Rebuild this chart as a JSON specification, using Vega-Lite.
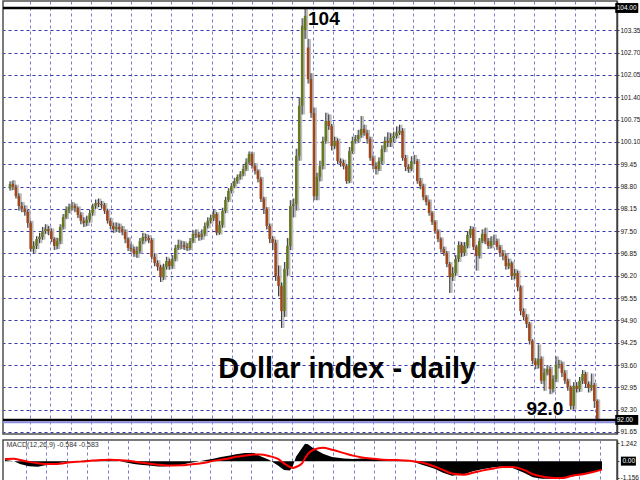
{
"$schema": "https://vega.github.io/schema/vega-lite/v6.json",
"padding": 0,
"background": "#ffffff",
"spacing": 2,
"config": {
  "view": {"stroke": "#505050", "strokeWidth": 1.5},
  "axis": {"labelFont": "Liberation Sans", "labelFontSize": 6.5, "labelColor": "#111111", "labelOverlap": false, "labelBound": false, "tickColor": "#404040", "tickSize": 2, "domainColor": "#404040", "domainWidth": 1.5, "labelPadding": 1, "gridDash": [3, 3], "gridWidth": 1}
},
"datasets": {
  "hlines": [{"level": 104.0}, {"level": 92.0}],
  "candles": [
{"i":0,"o":98.75,"h":98.95,"l":98.68,"c":98.87},
{"i":1,"o":98.87,"h":98.98,"l":98.70,"c":98.79},
{"i":2,"o":98.79,"h":98.85,"l":98.45,"c":98.52},
{"i":3,"o":98.52,"h":98.60,"l":98.10,"c":98.23},
{"i":4,"o":98.23,"h":98.35,"l":98.05,"c":98.15},
{"i":5,"o":98.15,"h":98.25,"l":97.95,"c":98.06},
{"i":6,"o":98.06,"h":98.12,"l":97.60,"c":97.74},
{"i":7,"o":97.74,"h":97.80,"l":96.90,"c":96.98},
{"i":8,"o":96.98,"h":97.20,"l":96.85,"c":97.07},
{"i":9,"o":97.07,"h":97.35,"l":96.98,"c":97.27},
{"i":10,"o":97.27,"h":97.45,"l":97.15,"c":97.33},
{"i":11,"o":97.33,"h":97.62,"l":97.25,"c":97.50},
{"i":12,"o":97.50,"h":97.70,"l":97.42,"c":97.56},
{"i":13,"o":97.56,"h":97.65,"l":97.38,"c":97.50},
{"i":14,"o":97.50,"h":97.58,"l":97.18,"c":97.27},
{"i":15,"o":97.27,"h":97.32,"l":96.95,"c":97.07},
{"i":16,"o":97.07,"h":97.30,"l":96.98,"c":97.21},
{"i":17,"o":97.21,"h":97.70,"l":97.12,"c":97.62},
{"i":18,"o":97.62,"h":98.00,"l":97.55,"c":97.91},
{"i":19,"o":97.91,"h":98.22,"l":97.85,"c":98.12},
{"i":20,"o":98.12,"h":98.30,"l":98.02,"c":98.20},
{"i":21,"o":98.20,"h":98.35,"l":98.10,"c":98.23},
{"i":22,"o":98.23,"h":98.30,"l":98.05,"c":98.17},
{"i":23,"o":98.17,"h":98.22,"l":97.88,"c":97.97},
{"i":24,"o":97.97,"h":98.05,"l":97.70,"c":97.80},
{"i":25,"o":97.80,"h":97.90,"l":97.62,"c":97.74},
{"i":26,"o":97.74,"h":97.95,"l":97.65,"c":97.83},
{"i":27,"o":97.83,"h":98.12,"l":97.75,"c":98.03},
{"i":28,"o":98.03,"h":98.30,"l":97.95,"c":98.23},
{"i":29,"o":98.23,"h":98.42,"l":98.15,"c":98.32},
{"i":30,"o":98.32,"h":98.45,"l":98.20,"c":98.29},
{"i":31,"o":98.29,"h":98.38,"l":98.15,"c":98.26},
{"i":32,"o":98.26,"h":98.32,"l":98.00,"c":98.09},
{"i":33,"o":98.09,"h":98.15,"l":97.72,"c":97.80},
{"i":34,"o":97.80,"h":97.88,"l":97.55,"c":97.65},
{"i":35,"o":97.65,"h":97.75,"l":97.45,"c":97.56},
{"i":36,"o":97.56,"h":97.75,"l":97.48,"c":97.62},
{"i":37,"o":97.62,"h":97.72,"l":97.45,"c":97.56},
{"i":38,"o":97.56,"h":97.65,"l":97.38,"c":97.48},
{"i":39,"o":97.48,"h":97.55,"l":97.15,"c":97.27},
{"i":40,"o":97.27,"h":97.32,"l":96.92,"c":97.01},
{"i":41,"o":97.01,"h":97.12,"l":96.88,"c":96.98},
{"i":42,"o":96.98,"h":97.05,"l":96.75,"c":96.83},
{"i":43,"o":96.83,"h":97.05,"l":96.72,"c":96.92},
{"i":44,"o":96.92,"h":97.30,"l":96.85,"c":97.21},
{"i":45,"o":97.21,"h":97.45,"l":97.12,"c":97.33},
{"i":46,"o":97.33,"h":97.42,"l":97.20,"c":97.30},
{"i":47,"o":97.30,"h":97.38,"l":97.15,"c":97.24},
{"i":48,"o":97.24,"h":97.30,"l":96.68,"c":96.75},
{"i":49,"o":96.75,"h":96.85,"l":96.48,"c":96.57},
{"i":50,"o":96.57,"h":96.65,"l":96.35,"c":96.46},
{"i":51,"o":96.46,"h":96.52,"l":96.02,"c":96.16},
{"i":52,"o":96.16,"h":96.55,"l":96.08,"c":96.46},
{"i":53,"o":96.46,"h":96.75,"l":96.38,"c":96.63},
{"i":54,"o":96.63,"h":96.70,"l":96.38,"c":96.48},
{"i":55,"o":96.48,"h":96.80,"l":96.40,"c":96.69},
{"i":56,"o":96.69,"h":97.10,"l":96.62,"c":97.01},
{"i":57,"o":97.01,"h":97.25,"l":96.95,"c":97.10},
{"i":58,"o":97.10,"h":97.22,"l":96.98,"c":97.10},
{"i":59,"o":97.10,"h":97.20,"l":96.95,"c":97.04},
{"i":60,"o":97.04,"h":97.15,"l":96.92,"c":97.01},
{"i":61,"o":97.01,"h":97.30,"l":96.95,"c":97.21},
{"i":62,"o":97.21,"h":97.52,"l":97.15,"c":97.42},
{"i":63,"o":97.42,"h":97.55,"l":97.30,"c":97.39},
{"i":64,"o":97.39,"h":97.48,"l":97.22,"c":97.33},
{"i":65,"o":97.33,"h":97.55,"l":97.25,"c":97.42},
{"i":66,"o":97.42,"h":97.75,"l":97.35,"c":97.65},
{"i":67,"o":97.65,"h":97.90,"l":97.58,"c":97.80},
{"i":68,"o":97.80,"h":97.98,"l":97.72,"c":97.88},
{"i":69,"o":97.88,"h":98.12,"l":97.80,"c":98.00},
{"i":70,"o":98.00,"h":98.05,"l":97.38,"c":97.45},
{"i":71,"o":97.45,"h":97.80,"l":97.40,"c":97.68},
{"i":72,"o":97.68,"h":98.18,"l":97.60,"c":98.09},
{"i":73,"o":98.09,"h":98.50,"l":98.02,"c":98.41},
{"i":74,"o":98.41,"h":98.75,"l":98.35,"c":98.67},
{"i":75,"o":98.67,"h":98.90,"l":98.60,"c":98.81},
{"i":76,"o":98.81,"h":99.05,"l":98.75,"c":98.96},
{"i":77,"o":98.96,"h":99.15,"l":98.88,"c":99.08},
{"i":78,"o":99.08,"h":99.25,"l":99.00,"c":99.16},
{"i":79,"o":99.16,"h":99.42,"l":99.10,"c":99.31},
{"i":80,"o":99.31,"h":99.62,"l":99.25,"c":99.51},
{"i":81,"o":99.51,"h":99.82,"l":99.45,"c":99.75},
{"i":82,"o":99.75,"h":99.80,"l":99.32,"c":99.40},
{"i":83,"o":99.40,"h":99.48,"l":99.15,"c":99.25},
{"i":84,"o":99.25,"h":99.30,"l":98.92,"c":99.02},
{"i":85,"o":99.02,"h":99.08,"l":98.35,"c":98.44},
{"i":86,"o":98.44,"h":98.50,"l":98.00,"c":98.15},
{"i":87,"o":98.15,"h":98.20,"l":97.55,"c":97.65},
{"i":88,"o":97.65,"h":97.72,"l":97.15,"c":97.27},
{"i":89,"o":97.27,"h":97.35,"l":96.95,"c":97.16},
{"i":90,"o":97.16,"h":97.25,"l":96.05,"c":96.19},
{"i":91,"o":96.19,"h":96.50,"l":95.60,"c":95.90},
{"i":92,"o":95.90,"h":96.00,"l":94.68,"c":95.17},
{"i":93,"o":95.17,"h":96.60,"l":95.00,"c":96.40},
{"i":94,"o":96.40,"h":97.30,"l":96.20,"c":97.07},
{"i":95,"o":97.07,"h":98.40,"l":96.95,"c":98.23},
{"i":96,"o":98.23,"h":98.45,"l":97.90,"c":98.29},
{"i":97,"o":98.29,"h":99.90,"l":98.10,"c":99.69},
{"i":98,"o":99.69,"h":101.40,"l":99.55,"c":101.15},
{"i":99,"o":101.15,"h":103.70,"l":100.90,"c":103.48},
{"i":100,"o":103.35,"h":103.97,"l":103.10,"c":103.77},
{"i":101,"o":102.85,"h":103.10,"l":101.80,"c":101.93},
{"i":102,"o":101.93,"h":102.10,"l":100.80,"c":100.94},
{"i":103,"o":100.94,"h":101.10,"l":98.40,"c":98.52},
{"i":104,"o":98.52,"h":99.20,"l":98.40,"c":99.08},
{"i":105,"o":99.08,"h":99.55,"l":98.95,"c":99.40},
{"i":106,"o":99.40,"h":100.25,"l":99.30,"c":100.13},
{"i":107,"o":100.13,"h":100.95,"l":100.05,"c":100.71},
{"i":108,"o":100.71,"h":100.90,"l":100.45,"c":100.56},
{"i":109,"o":100.56,"h":100.62,"l":99.85,"c":99.98},
{"i":110,"o":99.98,"h":100.25,"l":99.90,"c":100.13},
{"i":111,"o":100.13,"h":100.20,"l":99.45,"c":99.54},
{"i":112,"o":99.54,"h":99.62,"l":99.38,"c":99.49},
{"i":113,"o":99.49,"h":99.58,"l":99.30,"c":99.40},
{"i":114,"o":99.40,"h":99.45,"l":98.88,"c":98.96},
{"i":115,"o":98.96,"h":99.95,"l":98.90,"c":99.83},
{"i":116,"o":99.83,"h":100.25,"l":99.75,"c":100.13},
{"i":117,"o":100.13,"h":100.30,"l":100.05,"c":100.18},
{"i":118,"o":100.18,"h":100.45,"l":100.10,"c":100.30},
{"i":119,"o":100.30,"h":100.85,"l":100.22,"c":100.48},
{"i":120,"o":100.48,"h":100.60,"l":100.28,"c":100.36},
{"i":121,"o":100.36,"h":100.45,"l":100.05,"c":100.18},
{"i":122,"o":100.18,"h":100.25,"l":99.55,"c":99.63},
{"i":123,"o":99.63,"h":99.70,"l":99.30,"c":99.40},
{"i":124,"o":99.40,"h":99.50,"l":99.15,"c":99.31},
{"i":125,"o":99.31,"h":99.65,"l":99.25,"c":99.54},
{"i":126,"o":99.54,"h":100.00,"l":99.45,"c":99.89},
{"i":127,"o":99.89,"h":100.25,"l":99.80,"c":100.13},
{"i":128,"o":100.13,"h":100.38,"l":99.95,"c":100.07},
{"i":129,"o":100.07,"h":100.35,"l":99.95,"c":100.21},
{"i":130,"o":100.21,"h":100.40,"l":100.10,"c":100.27},
{"i":131,"o":100.27,"h":100.55,"l":100.20,"c":100.36},
{"i":132,"o":100.36,"h":100.60,"l":100.30,"c":100.42},
{"i":133,"o":100.42,"h":100.50,"l":99.55,"c":99.63},
{"i":134,"o":99.63,"h":99.72,"l":99.25,"c":99.37},
{"i":135,"o":99.37,"h":99.45,"l":99.20,"c":99.31},
{"i":136,"o":99.31,"h":99.68,"l":99.25,"c":99.54},
{"i":137,"o":99.54,"h":99.72,"l":99.45,"c":99.54},
{"i":138,"o":99.54,"h":99.60,"l":98.88,"c":98.96},
{"i":139,"o":98.96,"h":99.05,"l":98.72,"c":98.81},
{"i":140,"o":98.81,"h":98.88,"l":98.40,"c":98.49},
{"i":141,"o":98.49,"h":98.55,"l":98.25,"c":98.35},
{"i":142,"o":98.35,"h":98.42,"l":97.95,"c":98.03},
{"i":143,"o":98.03,"h":98.08,"l":97.68,"c":97.77},
{"i":144,"o":97.77,"h":97.82,"l":97.42,"c":97.50},
{"i":145,"o":97.50,"h":97.55,"l":97.18,"c":97.27},
{"i":146,"o":97.27,"h":97.32,"l":96.88,"c":96.98},
{"i":147,"o":96.98,"h":97.05,"l":96.78,"c":96.86},
{"i":148,"o":96.86,"h":96.92,"l":96.45,"c":96.54},
{"i":149,"o":96.54,"h":96.60,"l":95.70,"c":96.16},
{"i":150,"o":96.16,"h":96.45,"l":96.05,"c":96.28},
{"i":151,"o":96.28,"h":96.80,"l":96.20,"c":96.69},
{"i":152,"o":96.69,"h":97.20,"l":96.60,"c":97.10},
{"i":153,"o":97.10,"h":97.18,"l":96.75,"c":96.86},
{"i":154,"o":96.86,"h":97.18,"l":96.78,"c":97.07},
{"i":155,"o":97.07,"h":97.50,"l":97.00,"c":97.39},
{"i":156,"o":97.39,"h":97.65,"l":97.30,"c":97.56},
{"i":157,"o":97.56,"h":97.62,"l":96.95,"c":97.04},
{"i":158,"o":97.04,"h":97.10,"l":96.35,"c":96.78},
{"i":159,"o":96.78,"h":97.30,"l":96.70,"c":97.21},
{"i":160,"o":97.21,"h":97.55,"l":97.15,"c":97.42},
{"i":161,"o":97.42,"h":97.60,"l":97.12,"c":97.21},
{"i":162,"o":97.21,"h":97.30,"l":96.98,"c":97.07},
{"i":163,"o":97.07,"h":97.35,"l":97.00,"c":97.21},
{"i":164,"o":97.21,"h":97.40,"l":97.10,"c":97.21},
{"i":165,"o":97.21,"h":97.28,"l":96.95,"c":97.04},
{"i":166,"o":97.04,"h":97.10,"l":96.75,"c":96.86},
{"i":167,"o":96.86,"h":96.95,"l":96.65,"c":96.78},
{"i":168,"o":96.78,"h":96.85,"l":96.38,"c":96.48},
{"i":169,"o":96.48,"h":96.70,"l":96.40,"c":96.57},
{"i":170,"o":96.57,"h":96.62,"l":96.08,"c":96.19},
{"i":171,"o":96.19,"h":96.40,"l":96.10,"c":96.28},
{"i":172,"o":96.28,"h":96.35,"l":95.75,"c":95.87},
{"i":173,"o":95.87,"h":95.92,"l":95.05,"c":95.17},
{"i":174,"o":95.17,"h":95.25,"l":94.90,"c":95.00},
{"i":175,"o":95.00,"h":95.08,"l":94.68,"c":94.80},
{"i":176,"o":94.80,"h":94.85,"l":94.20,"c":94.30},
{"i":177,"o":94.30,"h":94.35,"l":93.62,"c":93.72},
{"i":178,"o":93.72,"h":93.80,"l":93.48,"c":93.60},
{"i":179,"o":93.60,"h":94.20,"l":93.50,"c":93.78},
{"i":180,"o":93.78,"h":93.85,"l":93.05,"c":93.14},
{"i":181,"o":93.14,"h":93.50,"l":92.85,"c":93.37},
{"i":182,"o":93.37,"h":93.60,"l":93.30,"c":93.48},
{"i":183,"o":93.48,"h":93.55,"l":92.75,"c":92.90},
{"i":184,"o":92.90,"h":93.30,"l":92.80,"c":93.19},
{"i":185,"o":93.19,"h":93.85,"l":93.10,"c":93.60},
{"i":186,"o":93.60,"h":93.75,"l":93.50,"c":93.63},
{"i":187,"o":93.63,"h":93.70,"l":93.25,"c":93.37},
{"i":188,"o":93.37,"h":93.45,"l":93.05,"c":93.14},
{"i":189,"o":93.14,"h":93.20,"l":92.85,"c":92.96},
{"i":190,"o":92.96,"h":93.00,"l":92.30,"c":92.41},
{"i":191,"o":92.41,"h":93.10,"l":92.30,"c":92.99},
{"i":192,"o":92.99,"h":93.10,"l":92.80,"c":92.90},
{"i":193,"o":92.90,"h":93.25,"l":92.82,"c":93.14},
{"i":194,"o":93.14,"h":93.45,"l":93.05,"c":93.34},
{"i":195,"o":93.34,"h":93.40,"l":92.95,"c":93.05},
{"i":196,"o":93.05,"h":93.12,"l":92.80,"c":92.93},
{"i":197,"o":92.93,"h":93.35,"l":92.85,"c":93.02},
{"i":198,"o":93.02,"h":93.08,"l":92.35,"c":92.55},
{"i":199,"o":92.55,"h":92.60,"l":91.95,"c":92.03}
  ],
  "macd": [
{"i":0,"hist":0.08,"sig":0.15},{"i":3,"hist":0.0,"sig":0.16},{"i":5,"hist":-0.2,"sig":0.08},{"i":8,"hist":-0.35,"sig":-0.05},
{"i":11,"hist":-0.38,"sig":-0.15},{"i":13,"hist":-0.3,"sig":-0.2},{"i":16,"hist":-0.2,"sig":-0.2},{"i":19,"hist":-0.1,"sig":-0.16},
{"i":21,"hist":-0.05,"sig":-0.1},{"i":24,"hist":0.0,"sig":-0.05},{"i":27,"hist":0.05,"sig":0.0},{"i":29,"hist":0.08,"sig":0.04},
{"i":32,"hist":0.1,"sig":0.07},{"i":35,"hist":0.08,"sig":0.09},{"i":37,"hist":0.02,"sig":0.08},{"i":40,"hist":-0.08,"sig":0.05},
{"i":43,"hist":-0.2,"sig":-0.02},{"i":45,"hist":-0.25,"sig":-0.1},{"i":48,"hist":-0.3,"sig":-0.17},{"i":51,"hist":-0.36,"sig":-0.24},
{"i":53,"hist":-0.37,"sig":-0.28},{"i":56,"hist":-0.32,"sig":-0.3},{"i":59,"hist":-0.25,"sig":-0.29},{"i":61,"hist":-0.15,"sig":-0.25},
{"i":64,"hist":-0.05,"sig":-0.18},{"i":67,"hist":0.08,"sig":-0.1},{"i":69,"hist":0.15,"sig":0.0},{"i":72,"hist":0.28,"sig":0.1},
{"i":75,"hist":0.38,"sig":0.2},{"i":77,"hist":0.48,"sig":0.3},{"i":80,"hist":0.55,"sig":0.38},{"i":83,"hist":0.55,"sig":0.45},
{"i":85,"hist":0.35,"sig":0.45},{"i":88,"hist":0.1,"sig":0.35},{"i":91,"hist":-0.3,"sig":0.15},{"i":93,"hist":-0.6,"sig":-0.15},
{"i":95,"hist":-0.65,"sig":-0.4},{"i":96,"hist":-0.3,"sig":-0.47},{"i":97,"hist":0.3,"sig":-0.4},{"i":99,"hist":0.9,"sig":-0.15},
{"i":100,"hist":1.2,"sig":0.2},{"i":101,"hist":1.15,"sig":0.5},{"i":103,"hist":0.85,"sig":0.8},{"i":106,"hist":0.5,"sig":0.92},
{"i":109,"hist":0.28,"sig":0.78},{"i":113,"hist":0.18,"sig":0.55},{"i":116,"hist":0.15,"sig":0.38},{"i":119,"hist":0.18,"sig":0.25},
{"i":123,"hist":0.15,"sig":0.16},{"i":126,"hist":0.1,"sig":0.1},{"i":129,"hist":0.1,"sig":0.08},{"i":133,"hist":0.05,"sig":0.05},
{"i":136,"hist":-0.05,"sig":0.0},{"i":139,"hist":-0.25,"sig":-0.1},{"i":143,"hist":-0.5,"sig":-0.35},{"i":146,"hist":-0.8,"sig":-0.6},
{"i":149,"hist":-1.0,"sig":-0.85},{"i":153,"hist":-0.9,"sig":-0.93},{"i":156,"hist":-0.7,"sig":-0.8},{"i":159,"hist":-0.55,"sig":-0.65},
{"i":163,"hist":-0.42,"sig":-0.5},{"i":166,"hist":-0.37,"sig":-0.4},{"i":169,"hist":-0.45,"sig":-0.4},{"i":173,"hist":-0.8,"sig":-0.6},
{"i":176,"hist":-1.1,"sig":-0.9},{"i":179,"hist":-1.2,"sig":-1.05},{"i":183,"hist":-1.2,"sig":-1.15},{"i":186,"hist":-1.15,"sig":-1.15},
{"i":189,"hist":-1.05,"sig":-1.0},{"i":193,"hist":-0.9,"sig":-0.88},{"i":196,"hist":-0.75,"sig":-0.75},{"i":199,"hist":-0.58,"sig":-0.58}
  ]
},
"vconcat": [
  {
    "width": 614,
    "height": 433,
    "layer": [
      {
        "data": {"name": "candles"},
        "mark": {"type": "bar", "width": 3, "xOffset": 1.5, "color": "#bdbdbd"},
        "encoding": {
          "x": {"field": "i", "type": "quantitative", "scale": {"domain": [-0.667, 204.0], "nice": false, "zero": false},
                "axis": {"values": [6.9,13.73,20.57,27.4,34.23,41.07,47.9,54.73,61.57,68.4,75.23,82.07,88.9,95.73,102.57,109.4,116.23,123.07,129.9,136.73,143.57,150.4,157.23,164.07,170.9,177.73,184.57,191.4,198.23],
                         "tickCount": 100, "labels": false, "ticks": false, "domain": false, "tickSize": 0, "labelPadding": 0, "minExtent": 0, "maxExtent": 0, "offset": 0, "grid": true, "gridColor": "#7b7bcc", "title": null}},
          "y": {"field": "l", "type": "quantitative", "scale": {"domain": [91.59, 104.204], "nice": false, "zero": false},
                "axis": {"orient": "right", "values": [91.65,92.30,92.95,93.60,94.25,94.90,95.55,96.20,96.85,97.50,98.15,98.80,99.45,100.10,100.75,101.40,102.05,102.70,103.35],
                         "tickCount": 100, "format": ".2f", "labelOverlap": false, "labelBound": false, "grid": true, "gridColor": "#3535ad", "title": null}},
          "y2": {"field": "h"}
        }
      },
      {
        "data": {"name": "candles"},
        "mark": {"type": "rule", "color": "#3c3c3c", "strokeWidth": 1},
        "encoding": {
          "x": {"field": "i", "type": "quantitative"},
          "y": {"field": "l", "type": "quantitative"},
          "y2": {"field": "h"}
        }
      },
      {
        "data": {"name": "candles"},
        "mark": {"type": "bar", "width": 2.5},
        "encoding": {
          "x": {"field": "i", "type": "quantitative"},
          "y": {"field": "o", "type": "quantitative"},
          "y2": {"field": "c"},
          "color": {"condition": {"test": "datum.c >= datum.o", "value": "#65781f"}, "value": "#a1461b"}
        }
      },
      {
        "data": {"name": "hlines"},
        "mark": {"type": "rule", "color": "#000000", "strokeWidth": 2.5},
        "encoding": {"y": {"field": "level", "type": "quantitative"}}
      },
      {
        "data": {"values": [{"level": 91.93}]},
        "mark": {"type": "rule", "color": "#8e8ee0", "strokeWidth": 2},
        "encoding": {"y": {"field": "level", "type": "quantitative"}}
      },
      {
        "data": {"name": "hlines"},
        "mark": {"type": "point", "shape": "M-1,-0.43H1V0.43H-1Z", "size": 529, "filled": true, "color": "#000000", "opacity": 1, "clip": false},
        "encoding": {
          "x": {"datum": 209.0, "type": "quantitative", "title": null},
          "y": {"field": "level", "type": "quantitative"}
        }
      },
      {
        "data": {"name": "hlines"},
        "mark": {"type": "text", "align": "left", "baseline": "middle", "color": "#ffffff", "fontSize": 6.5, "font": "Liberation Sans", "clip": false},
        "encoding": {
          "x": {"datum": 205.6, "type": "quantitative", "title": null},
          "y": {"field": "level", "type": "quantitative"},
          "text": {"field": "level", "type": "quantitative", "format": ".2f"}
        }
      },
      {
        "data": {"values": [{}]},
        "mark": {"type": "text", "text": "104", "font": "Liberation Sans", "fontSize": 19, "fontWeight": "bold", "align": "left", "baseline": "middle", "color": "#000000"},
        "encoding": {"x": {"datum": 101.0, "type": "quantitative", "title": null}, "y": {"datum": 103.68, "type": "quantitative", "title": null}}
      },
      {
        "data": {"values": [{}]},
        "mark": {"type": "text", "text": "92.0", "font": "Liberation Sans", "fontSize": 19, "fontWeight": "bold", "align": "left", "baseline": "middle", "color": "#000000"},
        "encoding": {"x": {"datum": 175, "type": "quantitative", "title": null}, "y": {"datum": 92.32, "type": "quantitative", "title": null}}
      },
      {
        "data": {"values": [{}]},
        "mark": {"type": "text", "text": "Dollar index - daily", "font": "Liberation Sans", "fontSize": 29, "fontWeight": "bold", "align": "center", "baseline": "middle", "color": "#000000"},
        "encoding": {"x": {"datum": 114.3, "type": "quantitative", "title": null}, "y": {"datum": 93.49, "type": "quantitative", "title": null}}
      }
    ]
  },
  {
    "width": 614,
    "height": 43,
    "layer": [
      {
        "data": {"name": "macd"},
        "mark": {"type": "area", "color": "#000000", "interpolate": "linear"},
        "encoding": {
          "x": {"field": "i", "type": "quantitative", "scale": {"domain": [-0.667, 204.0], "nice": false, "zero": false},
                "axis": {"values": [6.9,13.73,20.57,27.4,34.23,41.07,47.9,54.73,61.57,68.4,75.23,82.07,88.9,95.73,102.57,109.4,116.23,123.07,129.9,136.73,143.57,150.4,157.23,164.07,170.9,177.73,184.57,191.4,198.23],
                         "tickCount": 100, "labels": false, "ticks": false, "domain": false, "tickSize": 0, "labelPadding": 0, "minExtent": 0, "maxExtent": 0, "offset": 0, "grid": true, "gridColor": "#7b7bcc", "title": null}},
          "y": {"field": "hist", "type": "quantitative", "scale": {"domain": [-1.5, 1.45], "nice": false, "zero": false},
                "axis": {"orient": "right", "values": [-1.156, 0, 1.242], "tickCount": 10, "labelExpr": "datum.value > 1 ? '1.242' : (datum.value < -1 ? '-1.156' : '')", "labelOverlap": false, "labelBound": false, "grid": false, "title": null}},
          "y2": {"datum": 0}
        }
      },
      {
        "data": {"name": "macd"},
        "mark": {"type": "line", "color": "#ff0000", "strokeWidth": 2, "interpolate": "monotone"},
        "encoding": {
          "x": {"field": "i", "type": "quantitative"},
          "y": {"field": "sig", "type": "quantitative"}
        }
      },
      {
        "data": {"values": [{}]},
        "mark": {"type": "point", "shape": "M-1,-0.6H1V0.6H-1Z", "size": 225, "filled": true, "color": "#000000", "opacity": 1, "clip": false},
        "encoding": {"x": {"datum": 207.8, "type": "quantitative", "title": null}, "y": {"datum": 0, "type": "quantitative", "title": null}}
      },
      {
        "data": {"values": [{}]},
        "mark": {"type": "text", "text": "0.00", "align": "left", "baseline": "middle", "color": "#ffffff", "fontSize": 6.5, "font": "Liberation Sans", "clip": false},
        "encoding": {"x": {"datum": 205.8, "type": "quantitative", "title": null}, "y": {"datum": 0, "type": "quantitative", "title": null}}
      },
      {
        "data": {"values": [{}]},
        "mark": {"type": "text", "text": "MACD(12,26,9) -0.584 -0.583", "align": "left", "baseline": "top", "dy": 1, "color": "#333333", "fontSize": 7, "font": "Liberation Sans"},
        "encoding": {"x": {"datum": 0.5, "type": "quantitative", "title": null}, "y": {"datum": 1.45, "type": "quantitative", "title": null}}
      }
    ]
  }
]
}
